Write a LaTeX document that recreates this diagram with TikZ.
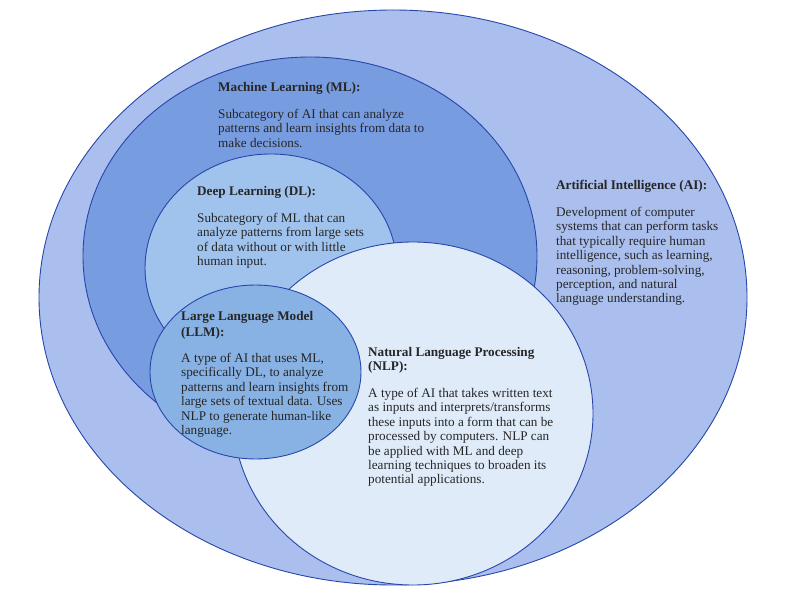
\documentclass[tikz,border=0pt]{standalone}
\usepackage{fontspec}
\setmainfont{Liberation Serif}
\usetikzlibrary{shapes.geometric}
\definecolor{aicol}{HTML}{AABFEE}
\definecolor{mlcol}{HTML}{789CE0}
\definecolor{dlcol}{HTML}{A0C3EE}
\definecolor{llmcol}{HTML}{88B2E4}
\definecolor{nlpcol}{HTML}{E0EBFA}
\definecolor{edgecol}{HTML}{2846AA}
\definecolor{txtcol}{HTML}{262626}
\tikzset{
  region/.style={ellipse, draw=edgecol, line width=0.9pt, inner sep=0pt, outer sep=0pt},
  desc/.style={anchor=base west, align=left, inner sep=0pt, text=txtcol,
    font=\fontsize{13.2}{14.4}\selectfont},
}
\begin{document}
\begin{tikzpicture}[x=1pt,y=-1pt]
\fill[white] (0,0) rectangle (800,601);
\useasboundingbox (0,0) rectangle (800,601);
\node[region, fill=aicol, minimum width=708pt, minimum height=575pt] (ai) at (393,297.5) {};
\node[region, fill=mlcol, minimum width=454pt, minimum height=398pt] (ml) at (310,256) {};
\node[region, fill=dlcol, minimum width=252pt, minimum height=228pt] (dl) at (271,268) {};
\node[region, fill=nlpcol, minimum width=360pt, minimum height=343pt] (nlp) at (413,413.5) {};
\node[region, fill=llmcol, minimum width=211pt, minimum height=174pt] (llm) at (255.5,372) {};

% each text block is anchored at the baseline of its last line
\node[desc] (mltext) at (218,147.3) {\textbf{Machine Learning (ML):}\\[12.6pt]
Subcategory of AI that can analyze\\
patterns and learn insights from data to\\
make decisions.};
\node[desc] (dltext) at (197,265.7) {\textbf{Deep Learning (DL):}\\[12.6pt]
Subcategory of ML that can\\
analyze patterns from large sets\\
of data without or with little\\
human input.};
\node[desc] (aitext) at (556,302.9) {\textbf{Artificial Intelligence (AI):}\\[12.6pt]
Development of computer\\
systems that can perform tasks\\
that typically require human\\
intelligence, such as learning,\\
reasoning, problem-solving,\\
perception, and natural\\
language understanding.};
\node[desc] (llmtext) at (181,434.5) {\textbf{Large Language Model}\\[1.6pt]
\textbf{(LLM):}\\[12pt]
A type of AI that uses ML,\\
specifically DL, to analyze\\
patterns and learn insights from\\
large sets of textual data. Uses\\
NLP to generate human-like\\
language.};
\node[desc] (nlptext) at (368,483.9) {\textbf{Natural Language Processing}\\
\textbf{(NLP):}\\[12.6pt]
A type of AI that takes written text\\
as inputs and interprets/transforms\\
these inputs into a form that can be\\
processed by computers. NLP can\\
be applied with ML and deep\\
learning techniques to broaden its\\
potential applications.};
\end{tikzpicture}
\end{document}
